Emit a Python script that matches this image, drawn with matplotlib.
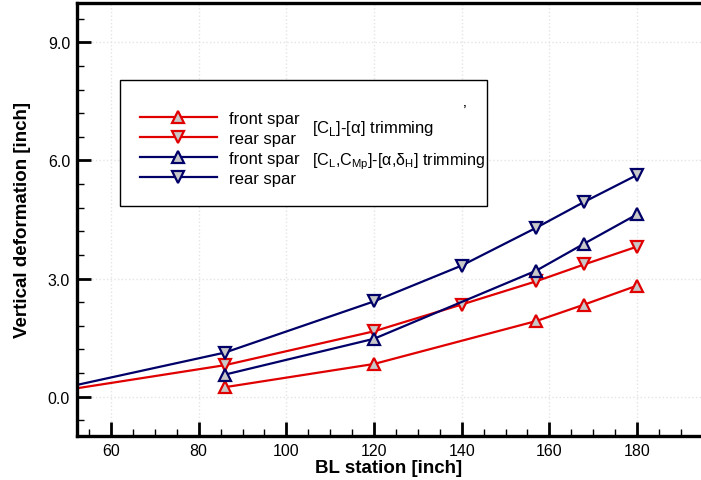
import matplotlib
matplotlib.use("Agg")
import matplotlib.pyplot as plt
from matplotlib.ticker import MultipleLocator, FormatStrFormatter
from matplotlib.patches import Rectangle

plt.rcParams['font.family'] = ['Liberation Sans', 'DejaVu Sans']
plt.rcParams['mathtext.fontset'] = 'custom'
plt.rcParams['mathtext.rm'] = 'Liberation Sans'

# BL stations [inch] and vertical deformations [inch]
bl_front = [86, 120, 157, 168, 180]
bl_rear = [40, 86, 120, 140, 157, 168, 180]

cl_front = [0.24, 0.83, 1.92, 2.34, 2.82]
cl_rear = [0.0, 0.80, 1.66, 2.34, 2.93, 3.36, 3.81]
clcm_front = [0.56, 1.47, 3.20, 3.89, 4.63]
clcm_rear = [0.0, 1.12, 2.42, 3.33, 4.29, 4.95, 5.63]

RED = '#e00000'
NAVY = '#000068'
FILL = '#c8c8c8'

fig = plt.figure(figsize=(7.01, 4.81), dpi=100)
ax = fig.add_axes([77 / 701, 1 - 437 / 481, 1 - 77 / 701, (437 - 4) / 481])

style = dict(lw=1.6, ms=9, mew=1.6, mfc=FILL, clip_on=True)
h1, = ax.plot(bl_front, cl_front, color=RED, marker='^', mec=RED, **style)
h2, = ax.plot(bl_rear, cl_rear, color=RED, marker='v', mec=RED, **style)
h3, = ax.plot(bl_front, clcm_front, color=NAVY, marker='^', mec=NAVY, **style)
h4, = ax.plot(bl_rear, clcm_rear, color=NAVY, marker='v', mec=NAVY, **style)

ax.set_xlim(52.24, 194.6)
ax.set_ylim(-1.0, 10.0)
ax.xaxis.set_major_locator(MultipleLocator(20))
ax.xaxis.set_minor_locator(MultipleLocator(5))
ax.yaxis.set_major_locator(MultipleLocator(3))
ax.yaxis.set_minor_locator(MultipleLocator(0.6))
ax.yaxis.set_major_formatter(FormatStrFormatter('%.1f'))

ax.tick_params(which='major', direction='in', length=10, width=2.0, labelsize=11.5, pad=5)
ax.tick_params(which='minor', direction='in', length=5, width=1.0)
ax.tick_params(top=False, right=False)
for side in ['left', 'bottom', 'top']:
    ax.spines[side].set_linewidth(2.4)
ax.spines['right'].set_visible(False)
ax.grid(True, which='major', color='#e4e4e4', linestyle=':', linewidth=1.0)
ax.set_axisbelow(True)

ax.set_xlabel('BL station [inch]', fontsize=13.5, fontweight='bold', labelpad=1)
ax.set_ylabel('Vertical deformation [inch]', fontsize=13.5, fontweight='bold', labelpad=12)

# legend box
ax.add_patch(Rectangle((120 / 701, 1 - 207 / 481), 367 / 701, 126 / 481,
                       transform=fig.transFigure, facecolor='white',
                       edgecolor='black', lw=1.0, zorder=5, clip_on=False))
leg = ax.legend([h1, h2, h3, h4], ['front spar', 'rear spar', 'front spar', 'rear spar'],
                loc='upper left', bbox_to_anchor=(140 / 701, 1 - 112 / 481),
                bbox_transform=fig.transFigure, frameon=False, fontsize=12,
                handlelength=4.6, handletextpad=0.75, labelspacing=0.3,
                borderpad=0, borderaxespad=0)
leg.set_zorder(6)
ax.text(312 / 701, 1 - 129 / 481, '[C$_\\mathregular{L}$]-[α] trimming',
        transform=fig.transFigure, fontsize=12, va='center', ha='left', zorder=7)
ax.text(312 / 701, 1 - 162 / 481,
        '[C$_\\mathregular{L}$,C$_\\mathregular{Mp}$]-[α,δ$_\\mathregular{H}$] trimming',
        transform=fig.transFigure, fontsize=11.6, va='center', ha='left', zorder=7)
ax.text(465 / 701, 1 - 112 / 481, '’', transform=fig.transFigure,
        fontsize=12, va='center', ha='center', zorder=7)

fig.savefig('out.png', dpi=100)
